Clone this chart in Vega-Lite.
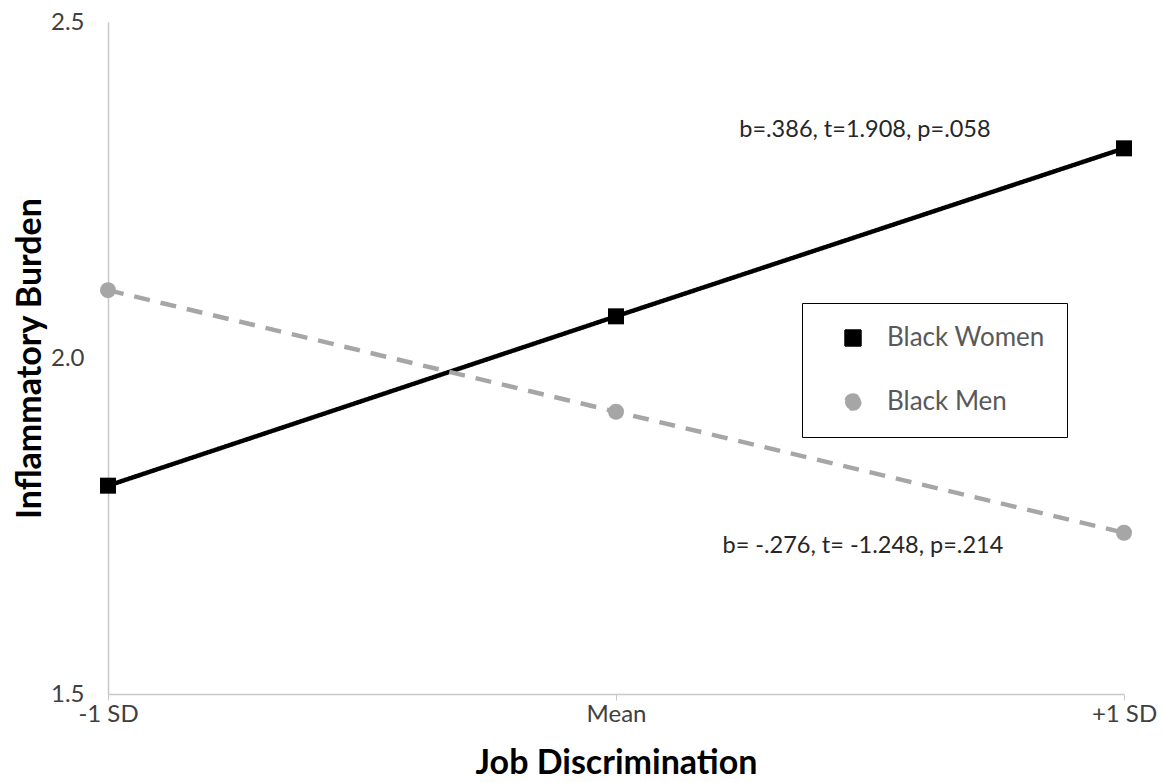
{
  "$schema": "https://vega.github.io/schema/vega-lite/v6.json",
  "width": 1016,
  "height": 672,
  "autosize": {"type": "none"},
  "padding": {"left": 108, "top": 22, "right": 39, "bottom": 89},
  "background": "white",
  "config": {
    "view": {"stroke": null},
    "font": "Lato",
    "axis": {"grid": false, "domainColor": "#c8c8c8", "domainWidth": 1.5, "tickColor": "#c8c8c8", "labelFont": "Lato", "labelFontSize": 24, "labelColor": "#404040", "titleFont": "Lato", "titleColor": "#000000"}
  },
  "datasets": {
    "series": [
      {"disc": -1, "burden": 1.81, "group": "Black Women"},
      {"disc": 0, "burden": 2.062, "group": "Black Women"},
      {"disc": 1, "burden": 2.312, "group": "Black Women"},
      {"disc": -1, "burden": 2.101, "group": "Black Men"},
      {"disc": 0, "burden": 1.92, "group": "Black Men"},
      {"disc": 1, "burden": 1.74, "group": "Black Men"}
    ],
    "notes": [
      {"disc": 0.49, "burden": 2.339, "label": "b=.386, t=1.908, p=.058"},
      {"disc": 0.486, "burden": 1.72, "label": "b= -.276, t= -1.248, p=.214"}
    ]
  },
  "layer": [
    {
      "data": {"name": "series"},
      "mark": {"type": "line", "strokeWidth": 4.5},
      "encoding": {
        "x": {"field": "disc", "type": "quantitative", "scale": {"domain": [-1, 1], "nice": false, "zero": false},
          "axis": {"values": [-1, 0, 1], "labelExpr": "datum.value == -1 ? '-1 SD' : datum.value == 0 ? 'Mean' : '+1 SD'", "tickSize": 6, "labelPadding": 2, "title": "Job Discrimination", "titleFontSize": 34, "titleFontWeight": "bold", "titleY": 69, "titleBaseline": "middle", "labelFlush": false}},
        "y": {"field": "burden", "type": "quantitative", "scale": {"domain": [1.5, 2.5], "nice": false, "zero": false},
          "axis": {"values": [1.5, 2.0, 2.5], "format": ".1f", "ticks": false, "labelPadding": 24, "title": "Inflammatory Burden", "titleFontSize": 34, "titleFontWeight": "bold", "titleX": -78, "titleY": 336, "titleAngle": -90, "titleAlign": "center", "titleBaseline": "middle"}},
        "color": {"field": "group", "type": "nominal", "scale": {"domain": ["Black Women", "Black Men"], "range": ["#000000", "#a6a6a6"]},
          "legend": {"title": null, "orient": "none", "legendX": 694, "legendY": 281, "strokeColor": "#000000", "padding": 22, "labelFontSize": 26, "labelColor": "#595959", "labelFont": "Lato", "labelLimit": 300, "rowPadding": 38, "symbolSize": 256, "symbolOffset": 16, "labelOffset": 21}},
        "strokeDash": {"field": "group", "type": "nominal", "scale": {"domain": ["Black Women", "Black Men"], "range": [[1, 0], [16, 11]]}, "legend": null}
      }
    },
    {
      "data": {"name": "series"},
      "mark": {"type": "point", "filled": true, "opacity": 1, "size": 256},
      "encoding": {
        "x": {"field": "disc", "type": "quantitative"},
        "y": {"field": "burden", "type": "quantitative"},
        "color": {"field": "group", "type": "nominal"},
        "shape": {"field": "group", "type": "nominal", "scale": {"domain": ["Black Women", "Black Men"], "range": ["square", "circle"]}, "legend": null}
      }
    },
    {
      "data": {"name": "notes"},
      "mark": {"type": "text", "fontSize": 23.5, "font": "Lato", "color": "#262626", "align": "center", "baseline": "middle"},
      "encoding": {
        "x": {"field": "disc", "type": "quantitative"},
        "y": {"field": "burden", "type": "quantitative"},
        "text": {"field": "label"}
      }
    }
  ]
}
